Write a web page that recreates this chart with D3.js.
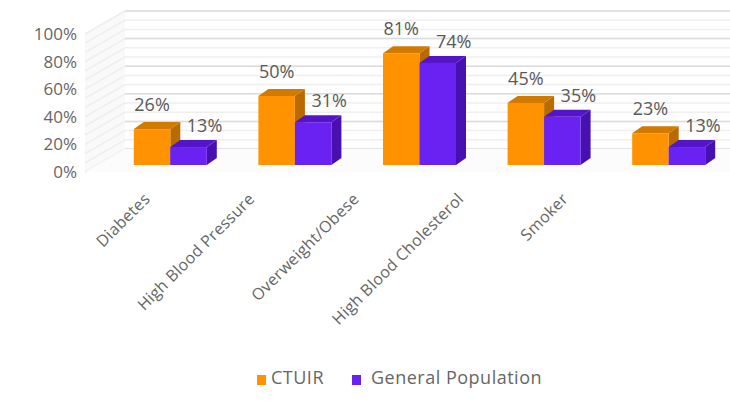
<!DOCTYPE html>
<html><head><meta charset="utf-8">
<script src="https://cdn.jsdelivr.net/npm/d3@7"></script>
<style>body{margin:0;background:#fff;} svg{display:block;font-family:"Open Sans",sans-serif;}</style>
</head><body>
<svg id="c" width="730" height="406"></svg>
<script>
const categories = ["Diabetes","High Blood Pressure","Overweight/Obese","High Blood Cholesterol","Smoker"];
const seriesNames = ["CTUIR","General Population"];
const ctuir = [0.26,0.50,0.81,0.45,0.23];
const genPop = [0.13,0.31,0.74,0.35,0.13];
const tickValues = [0,0.2,0.4,0.6,0.8,1.0];
const colors = {
  "CTUIR": {front:"#ff9200", top:"#d27a00", side:"#b96a00"},
  "General Population": {front:"#6a22f2", top:"#5414c8", side:"#4810b0"}
};

const svg = d3.select("#c");
const fmt = d3.format(".0%");

// 3D frame geometry
const frontLeft = 85, backLeft = 125, rightEdge = 731;
const yFront = d3.scaleLinear().domain([0,1]).range([172,34]);
const yBack = d3.scaleLinear().domain([0,1]).range([149,11]);
const yBar = d3.scaleLinear().domain([0,1]).range([165,27]);
const barDx = 10, barDy = -7;

// back wall gridlines (minor then major)
const minor = d3.range(0, 1.0001, 0.2/3);
const g = svg.append("g");
g.selectAll("line.minor").data(minor).join("line")
  .attr("x1", backLeft).attr("x2", rightEdge)
  .attr("y1", d=>yBack(d)).attr("y2", d=>yBack(d))
  .attr("stroke","#efefef").attr("stroke-width",1.5);
g.selectAll("line.major").data(tickValues).join("line")
  .attr("x1", backLeft).attr("x2", rightEdge)
  .attr("y1", d=>yBack(d)).attr("y2", d=>yBack(d))
  .attr("stroke","#dcdcdc").attr("stroke-width",1.5);
// side wall
g.append("path")
  .attr("d", `M${frontLeft},${yFront(0)}L${backLeft},${yBack(0)}L${backLeft},${yBack(1)}L${frontLeft},${yFront(1)}Z`)
  .attr("fill","#f9f9f9");
g.selectAll("line.side").data(minor).join("line")
  .attr("x1", frontLeft).attr("x2", backLeft)
  .attr("y1", d=>yFront(d)).attr("y2", d=>yBack(d))
  .attr("stroke","#eeeeee").attr("stroke-width",1.5);
// floor
g.append("path")
  .attr("d", `M${frontLeft},${yFront(0)}L${backLeft},${yBack(0)}L${rightEdge},${yBack(0)}L${rightEdge},${yFront(0)}Z`)
  .attr("fill","#fcfcfc");

// y axis labels
svg.append("g").selectAll("text").data(tickValues).join("text")
  .attr("x", 77).attr("y", d=>yFront(d)+6)
  .attr("text-anchor","end").attr("font-size",17).attr("fill","#666")
  .text(d=>fmt(d));

// bars
const x0 = d3.scaleBand().domain(categories).range([108, 731]);
const groupW = 73;
const x1 = d3.scaleBand().domain(seriesNames).range([0, groupW]);
const data = categories.map((c,i)=>({cat:c, vals:[{s:"CTUIR",v:ctuir[i]},{s:"General Population",v:genPop[i]}]}));

const bars = svg.append("g");
data.forEach(d=>{
  const gx = x0(d.cat) + (x0.bandwidth()-groupW)/2;
  d.vals.forEach(b=>{
    const xl = gx + x1(b.s), xr = xl + x1.bandwidth();
    const yt = yBar(b.v), yb = yBar(0);
    const c = colors[b.s];
    bars.append("path").attr("d",`M${xr},${yb}L${xr+barDx},${yb+barDy}L${xr+barDx},${yt+barDy}L${xr},${yt}Z`).attr("fill",c.side);
    bars.append("path").attr("d",`M${xl},${yt}L${xl+barDx},${yt+barDy}L${xr+barDx},${yt+barDy}L${xr},${yt}Z`).attr("fill",c.top);
    bars.append("rect").attr("x",xl).attr("y",yt).attr("width",xr-xl).attr("height",yb-yt).attr("fill",c.front);
  });
});

// data labels
const lbl = svg.append("g").attr("font-size",18).attr("fill","#595959").attr("text-anchor","middle");
data.forEach(d=>{
  const gx = x0(d.cat) + (x0.bandwidth()-groupW)/2;
  d.vals.forEach((b,j)=>{
    const cx = gx + x1(b.s) + x1.bandwidth()/2 + (j===0?0:16);
    const y = yBar(b.v) - (j===0?18:15);
    lbl.append("text").attr("x",cx).attr("y",y).text(fmt(b.v));
  });
});

// category labels (perspective-projected front floor positions)
const xl = d3.scalePoint().domain(categories).range([151, 569]);
svg.append("g").selectAll("text").data(categories).join("text")
  .attr("transform", d=>`translate(${xl(d)},200) rotate(-45)`)
  .attr("text-anchor","end").attr("font-size",16).attr("letter-spacing",0.3).attr("fill","#666")
  .text(d=>d);

// legend
const legend = svg.append("g").attr("font-size",18).attr("letter-spacing",0.5).attr("fill","#666");
const legX = [257, 352];
seriesNames.forEach((s,i)=>{
  legend.append("rect").attr("x",legX[i]).attr("y",375).attr("width",9).attr("height",10).attr("fill",colors[s].front);
  legend.append("text").attr("x",legX[i]+(i===0?14:19)).attr("y",384).text(s);
});
</script>
</body></html>
